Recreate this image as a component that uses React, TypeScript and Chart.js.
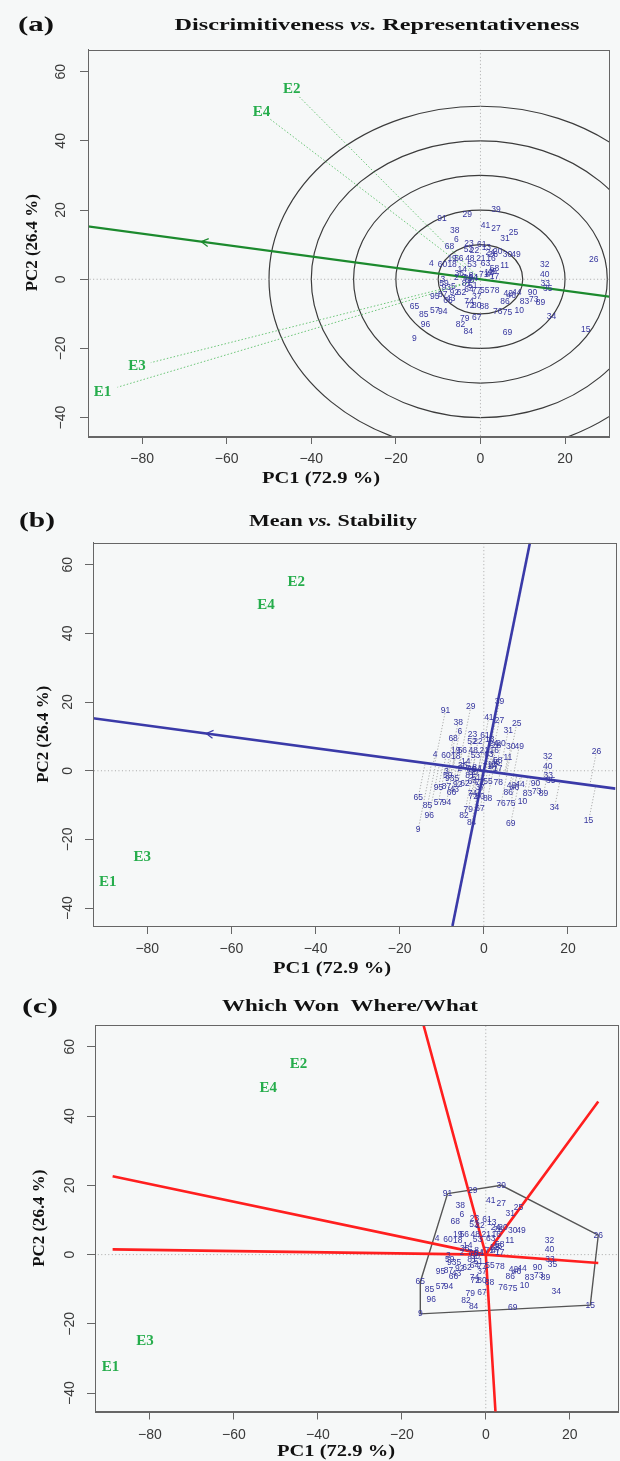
import React, { useEffect, useRef } from "react";
import { Chart, registerables } from "chart.js";
Chart.register(...registerables);

// ---------------- data ----------------
const genotypeNames = [
  "91","29","39","38","41","27","25","6","68","31","23","61","13","52","22","28","20","24","30","49",
  "19","56","48","21","16","4","60","18","53","63","58","11","32","14","36","45","12","47","17","2",
  "7","8","70","54","1","71","50","40","33","35","3","59","81","51","5","93","92","62","64","77",
  "55","78","42","44","46","90","95","87","43","37","66","86","83","73","89","74","72","80","88","65",
  "85","57","94","76","75","10","79","67","34","96","82","84","69","15","9","26",
];
const genotypePC1 = [
  -9.1,-3.1,3.7,-6.1,1.2,3.7,7.8,-5.7,-7.3,5.8,-2.7,0.3,1.4,-2.8,-1.4,3.0,4.1,2.3,6.4,8.4,
  -6.7,-5.1,-2.5,0.1,2.5,-11.6,-9.0,-6.7,-2.0,1.2,3.3,5.7,15.2,-4.3,-5.0,2.8,2.0,2.4,3.3,-5.7,
  -3.8,-2.2,-2.9,-1.7,-0.9,0.8,-2.5,15.2,15.3,15.9,-8.9,-8.6,-3.3,-1.8,-6.4,-8.1,-6.2,-4.5,-2.7,-0.9,
  1.0,3.4,6.6,8.6,7.3,12.3,-10.8,-8.9,-7.0,-0.9,-7.7,5.8,10.4,12.6,14.2,-2.7,-2.5,-0.9,0.9,-15.6,
  -13.4,-10.8,-8.9,4.1,6.4,9.2,-3.7,-0.9,16.8,-13.0,-4.7,-2.9,6.4,24.9,-15.6,26.8,
];
const genotypePC2 = [
  17.6,18.6,20.0,14.1,15.5,14.7,13.6,11.4,9.4,11.7,10.4,10.1,9.2,8.6,8.4,7.2,7.9,7.8,7.0,7.0,
  5.9,5.9,5.9,5.9,5.9,4.6,4.3,4.1,4.3,4.6,3.0,3.9,4.1,2.7,1.6,2.3,1.9,1.2,0.7,0.5,
  0.6,1.0,0.2,0.4,0.6,1.2,-0.5,1.3,-1.4,-2.8,-0.2,-1.4,-1.4,-1.9,-2.2,-2.4,-4.0,-3.8,-3.1,-3.4,
  -3.2,-3.4,-4.3,-4.0,-4.8,-3.9,-5.0,-4.5,-5.5,-5.0,-6.3,-6.5,-6.6,-6.0,-6.7,-6.6,-7.6,-7.6,-8.0,-7.9,
  -10.1,-9.2,-9.3,-9.5,-9.7,-9.1,-11.3,-11.0,-10.8,-13.0,-13.2,-15.1,-15.3,-14.6,-17.1,5.6,
];
const environmentNames = ["E1", "E2", "E3", "E4"];
const environmentPC1 = [-89.4, -44.6, -81.2, -51.8];
const environmentPC2 = [-32.5, 54.9, -25.1, 48.2];

const xTickValues = [-80, -60, -40, -20, 0, 20];
const yTickValues = [-40, -20, 0, 20, 40, 60];

// panel (a): concentric circles and average-environment axis
const circleRadii = [10, 20, 30, 40, 50];
const aeaLinePC1 = [-92.9, 31.3];
const aeaLinePC2 = [15.3, -5.2];
const aeaArrowPC1 = -66.0;
// panel (b): ATC ordinate
const ordinateLinePC1 = [-7.46, 10.96];
const ordinateLinePC2 = [-45.2, 66.4];
// panel (c): polygon vertices and sector rays
const polygonVertices = ["91", "39", "26", "15", "9", "65"];
const sectorRayPC1 = [-17.9, 2.8, 26.8, 26.8, -88.9, -88.9];
const sectorRayPC2 = [80.0, -55.0, 44.2, -2.4, 22.6, 1.5];

// ---------------- styling / layout ----------------
const SANS = '"Liberation Sans", Arial, sans-serif';
const SERIF = '"Liberation Serif", "Times New Roman", serif';
const BG = "#f6f8f8";
const GENO_COLOR = "#35359e";
const ENV_COLOR = "#26ad4c";

type Seg = { text: string; italic?: boolean };

const PANELS = [
  {
    id: "a", top: 0, height: 495,
    area: { left: 88, right: 609, top: 49.5, bottom: 436 },
    xRange: [-92.8, 30.4], yRange: [-45.3, 66.4], yTickPad: 7,
    letter: "(a)", letterPos: [36, 25],
    title: [{ text: "Discrimitiveness " }, { text: "vs.", italic: true }, { text: " Representativeness" }] as Seg[],
    titlePos: [377, 26], titleWidth: 405,
    xTitlePos: [321, 479], yTitleX: 33,
  },
  {
    id: "b", top: 495, height: 490,
    area: { left: 93, right: 615.5, top: 542.7, bottom: 926 },
    xRange: [-92.9, 31.3], yRange: [-45.2, 66.4], yTickPad: 5,
    letter: "(b)", letterPos: [37, 521],
    title: [{ text: "Mean " }, { text: "vs.", italic: true }, { text: " Stability" }] as Seg[],
    titlePos: [333, 522], titleWidth: 168,
    xTitlePos: [332, 969], yTitleX: 44,
  },
  {
    id: "c", top: 985, height: 476,
    area: { left: 95, right: 618, top: 1025, bottom: 1411.5 },
    xRange: [-93.1, 31.5], yRange: [-45.3, 66.3], yTickPad: 5,
    letter: "(c)", letterPos: [40, 1007],
    title: [{ text: "Which Won  Where/What" }] as Seg[],
    titlePos: [350, 1007], titleWidth: 256,
    xTitlePos: [336, 1452], yTitleX: 40,
  },
];

function drawRich(ctx: CanvasRenderingContext2D, segs: Seg[], cx: number, cy: number, size: number, width: number, rotate = false) {
  ctx.save();
  const fontOf = (s: Seg) => `${s.italic ? "italic " : ""}bold ${size}px ${SERIF}`;
  let total = 0;
  const widths = segs.map((s) => {
    ctx.font = fontOf(s);
    const w = ctx.measureText(s.text).width;
    total += w;
    return w;
  });
  ctx.translate(cx, cy);
  if (rotate) ctx.rotate(-Math.PI / 2);
  ctx.scale(width / total, 1);
  ctx.textBaseline = "middle";
  ctx.textAlign = "left";
  ctx.fillStyle = "#111";
  let x = -total / 2;
  segs.forEach((s, i) => {
    ctx.font = fontOf(s);
    ctx.fillText(s.text, x, 0);
    x += widths[i];
  });
  ctx.restore();
}

const pt = (x: number, y: number | null) => ({ x, y });
const gap = { x: 0, y: null as any };

function lineDs(data: any[], color: string, width: number, dash: number[] = []) {
  return {
    data, showLine: true, borderColor: color, borderWidth: width, borderDash: dash,
    pointRadius: 0, pointHoverRadius: 0, fill: false, spanGaps: false, tension: 0,
  };
}

function buildDatasets(id: string) {
  const ds: any[] = [];
  const genoPoints = genotypeNames.map((_, i) => pt(genotypePC1[i], genotypePC2[i]));
  const envPoints = environmentNames.map((_, i) => pt(environmentPC1[i], environmentPC2[i]));

  ds.push({ data: genoPoints, pointRadius: 0, pointHoverRadius: 0, textLabels: genotypeNames, textFont: `8.5px ${SANS}`, textColor: GENO_COLOR });
  ds.push({ data: envPoints, pointRadius: 0, pointHoverRadius: 0, textLabels: environmentNames, textFont: `bold 15px ${SERIF}`, textColor: ENV_COLOR });

  if (id === "a") {
    ds.push(lineDs([pt(aeaLinePC1[0], aeaLinePC2[0]), pt(aeaLinePC1[1], aeaLinePC2[1])], "#1c8a2e", 2.2));
    const vec: any[] = [];
    envPoints.forEach((p) => { vec.push(pt(0, 0), pt(p.x * 0.96, (p.y as number) * 0.96), gap); });
    ds.push(lineDs(vec, "#5cbf6a", 0.9, [1.5, 2]));
  }
  if (id === "b") {
    ds.push(lineDs([pt(aeaLinePC1[0], aeaLinePC2[0]), pt(aeaLinePC1[1], aeaLinePC2[1])], "#3a3aa8", 2.6));
    ds.push(lineDs([pt(ordinateLinePC1[0], ordinateLinePC2[0]), pt(ordinateLinePC1[1], ordinateLinePC2[1])], "#3a3aa8", 2.6));
    const dx = aeaLinePC1[1] - aeaLinePC1[0];
    const dy = aeaLinePC2[1] - aeaLinePC2[0];
    const n = Math.hypot(dx, dy);
    const ux = dx / n, uy = dy / n;
    const proj: any[] = [];
    genoPoints.forEach((p) => {
      const t = p.x * ux + (p.y as number) * uy;
      proj.push(p, pt(t * ux, t * uy), gap);
    });
    ds.push(lineDs(proj, "#9a9a9a", 0.8, [1.2, 1.8]));
  }
  if (id === "c") {
    const rays: any[] = [];
    sectorRayPC1.forEach((x, i) => rays.push(pt(0, 0), pt(x, sectorRayPC2[i]), gap));
    ds.push(lineDs(rays, "#ff1f1f", 2.6));
    const poly = [...polygonVertices, polygonVertices[0]].map((name) => {
      const i = genotypeNames.indexOf(name);
      return pt(genotypePC1[i], genotypePC2[i]);
    });
    ds.push(lineDs(poly, "#555555", 1.4));
  }
  ds.push(lineDs([pt(-200, 0), pt(200, 0)], "#a8a8a8", 1, [1, 2.5]));
  ds.push(lineDs([pt(0, -200), pt(0, 200)], "#a8a8a8", 1, [1, 2.5]));
  return ds;
}

function makePlugin(panel: (typeof PANELS)[number]) {
  const off = panel.top;
  return {
    id: "gge" + panel.id,
    beforeDatasetsDraw(chart: any) {
      if (panel.id !== "a") return;
      const { ctx, chartArea: a, scales } = chart;
      ctx.save();
      ctx.beginPath();
      ctx.rect(a.left, a.top, a.right - a.left, a.bottom - a.top);
      ctx.clip();
      const cx = scales.x.getPixelForValue(0);
      const cy = scales.y.getPixelForValue(0);
      ctx.strokeStyle = "#3c3c3c";
      ctx.lineWidth = 1.2;
      circleRadii.forEach((r) => {
        const rx = scales.x.getPixelForValue(r) - cx;
        const ry = cy - scales.y.getPixelForValue(r);
        ctx.beginPath();
        ctx.ellipse(cx, cy, rx, ry, 0, 0, Math.PI * 2);
        ctx.stroke();
      });
      ctx.restore();
    },
    afterDatasetsDraw(chart: any) {
      const { ctx, chartArea: a, scales } = chart;
      ctx.save();
      ctx.beginPath();
      ctx.rect(a.left, a.top, a.right - a.left, a.bottom - a.top);
      ctx.clip();
      // arrow head on the average-environment axis
      if (panel.id === "a" || panel.id === "b") {
        const x0 = scales.x.getPixelForValue(aeaLinePC1[0]);
        const y0 = scales.y.getPixelForValue(aeaLinePC2[0]);
        const x1 = scales.x.getPixelForValue(aeaLinePC1[1]);
        const y1 = scales.y.getPixelForValue(aeaLinePC2[1]);
        const tY = aeaLinePC2[0] + ((aeaArrowPC1 - aeaLinePC1[0]) / (aeaLinePC1[1] - aeaLinePC1[0])) * (aeaLinePC2[1] - aeaLinePC2[0]);
        const tx = scales.x.getPixelForValue(aeaArrowPC1);
        const ty = scales.y.getPixelForValue(tY);
        const len = Math.hypot(x0 - x1, y0 - y1);
        const ux = (x0 - x1) / len, uy = (y0 - y1) / len;
        const L = 8, ang = Math.PI / 6;
        ctx.strokeStyle = panel.id === "a" ? "#1c8a2e" : "#3a3aa8";
        ctx.lineWidth = 1.2;
        ctx.beginPath();
        for (const s of [ang, -ang]) {
          const c = Math.cos(s), sn = Math.sin(s);
          const vx = ux * c - uy * sn, vy = ux * sn + uy * c;
          ctx.moveTo(tx - vx * L, ty - vy * L);
          ctx.lineTo(tx, ty);
        }
        ctx.stroke();
      }
      // text labels for genotypes and environments
      chart.data.datasets.forEach((ds: any, di: number) => {
        if (!ds.textLabels) return;
        const meta = chart.getDatasetMeta(di);
        ctx.font = ds.textFont;
        ctx.fillStyle = ds.textColor;
        ctx.textAlign = "center";
        ctx.textBaseline = "middle";
        meta.data.forEach((el: any, i: number) => {
          ctx.fillText(ds.textLabels[i], el.x, el.y);
        });
      });
      ctx.restore();
    },
    afterDraw(chart: any) {
      const { ctx, chartArea: a } = chart;
      ctx.save();
      ctx.strokeStyle = "#666";
      ctx.lineWidth = 1;
      ctx.strokeRect(Math.round(a.left) + 0.5, Math.round(a.top) + 0.5, Math.round(a.right - a.left), Math.round(a.bottom - a.top));
      ctx.restore();
      drawRich(ctx, [{ text: panel.letter }], panel.letterPos[0], panel.letterPos[1] - off, 22, 36);
      drawRich(ctx, panel.title, panel.titlePos[0], panel.titlePos[1] - off, 17, panel.titleWidth);
      drawRich(ctx, [{ text: "PC1 (72.9 %)" }], panel.xTitlePos[0], panel.xTitlePos[1] - off, 17, 118);
      drawRich(ctx, [{ text: "PC2 (26.4 %)" }], panel.yTitleX, (a.top + a.bottom) / 2, 16, 97, true);
    },
  };
}

const tickLabel = (v: any) => (Number(v) < 0 ? "\u2212" + Math.abs(Number(v)) : String(v));

function Panel({ panel }: { panel: (typeof PANELS)[number] }) {
  const ref = useRef<HTMLCanvasElement | null>(null);
  useEffect(() => {
    if (!ref.current) return;
    const a = panel.area;
    const xHeight = panel.height - (a.bottom - panel.top);
    const chart = new Chart(ref.current, {
      type: "scatter",
      data: { datasets: buildDatasets(panel.id) },
      options: {
        animation: false,
        responsive: false,
        devicePixelRatio: 1,
        events: [],
        layout: { padding: { left: 0, bottom: 0, top: a.top - panel.top, right: 620 - a.right } },
        plugins: { legend: { display: false }, tooltip: { enabled: false }, title: { display: false } },
        scales: {
          x: {
            type: "linear", position: "bottom", min: panel.xRange[0], max: panel.xRange[1],
            afterBuildTicks: (s: any) => { s.ticks = xTickValues.map((v) => ({ value: v })); },
            afterFit: (s: any) => { s.height = xHeight; s.paddingLeft = 0; s.paddingRight = 0; s.paddingTop = 0; s.paddingBottom = 0; },
            ticks: { font: { family: SANS, size: 14 }, color: "#3a3a3a", padding: 7, maxRotation: 0, minRotation: 0, callback: tickLabel },
            grid: { display: true, drawOnChartArea: false, drawTicks: true, tickLength: 8, color: "#666", tickColor: "#666" },
            border: { display: true, color: "#666" },
            title: { display: false },
          },
          y: {
            type: "linear", position: "left", min: panel.yRange[0], max: panel.yRange[1],
            afterBuildTicks: (s: any) => { s.ticks = yTickValues.map((v) => ({ value: v })); },
            afterFit: (s: any) => { s.width = a.left; s.paddingLeft = 0; s.paddingRight = 0; s.paddingTop = 0; s.paddingBottom = 0; },
            ticks: { font: { family: SANS, size: 14 }, color: "#3a3a3a", padding: panel.yTickPad, minRotation: 90, maxRotation: 90, crossAlign: "center", callback: tickLabel },
            grid: { display: true, drawOnChartArea: false, drawTicks: true, tickLength: 8, color: "#666", tickColor: "#666" },
            border: { display: true, color: "#666" },
            title: { display: false },
          },
        },
      } as any,
      plugins: [makePlugin(panel)],
    } as any);
    return () => chart.destroy();
  }, [panel]);
  return (
    <canvas
      ref={ref}
      width={620}
      height={panel.height}
      style={{ position: "absolute", left: 0, top: panel.top, width: 620, height: panel.height, display: "block" }}
    />
  );
}

export default function App() {
  return (
    <div style={{ position: "absolute", left: 0, top: 0, width: 620, height: 1461, background: BG, overflow: "hidden" }}>
      {PANELS.map((p) => (
        <Panel key={p.id} panel={p} />
      ))}
    </div>
  );
}
